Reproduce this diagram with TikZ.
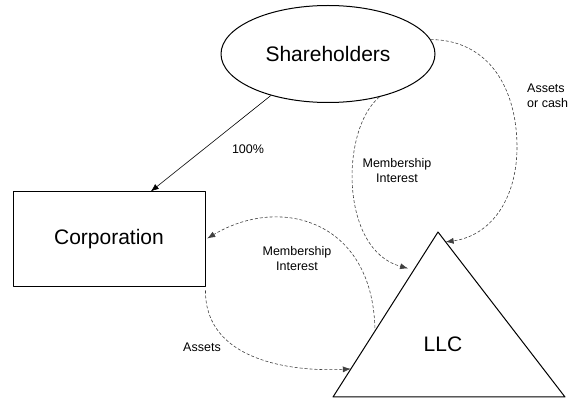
\documentclass[tikz,border=0pt]{standalone}
\usepackage{fontspec}
\setmainfont{Liberation Sans}
\usetikzlibrary{shapes.geometric,arrows.meta,calc}

\begin{document}
\begin{tikzpicture}[x=1pt,y=-1pt,line join=round,
	big/.style={font=\fontsize{21}{25}\selectfont},
	lbl/.style={font=\fontsize{12.5}{15}\selectfont,align=center,inner sep=0pt},
	flow/.style={dash pattern=on 3pt off 2pt,line width=0.6pt,black!75,-{Latex[length=8pt,width=6pt]}}]
	\useasboundingbox (0,0) rectangle (571,398);
	\node[ellipse,draw,line width=1pt,minimum width=214pt,minimum height=97pt,inner sep=0pt,big] (share) at (328,54) {Shareholders};
	\node[rectangle,draw,line width=1pt,minimum width=192pt,minimum height=95pt,inner sep=0pt,big] (corp) at (109,239.5) {Corporation};
	\coordinate (T) at (438,232);
	\coordinate (L) at (333,397);
	\coordinate (R) at (565,397);
	\draw[line width=1pt] (T)--(L)--(R)--cycle;
	\node[big] (llc) at (443,344) {LLC};
	\coordinate (A) at ($(T)!0.23!(L)$);
	\coordinate (B) at ($(T)!0.6!(L)$);
	\coordinate (C) at ($(T)!0.83!(L)$);
	\coordinate (D) at ($(T)!0.06!(R)$);
	\draw[line width=0.6pt,-{Latex[length=8pt,width=6pt]}] (share.-144) -- (corp.49);
	\draw[flow] (share.8) .. controls (490,40) and (517,90) .. (517,147) .. controls (517,200) and (490,236) .. (D);
	\draw[flow,shorten >=6pt] (share.-40) .. controls (340,130) and (340,250) .. (A);
	\draw[flow,shorten <=3pt,shorten >=2pt] (B) .. controls (372,220) and (280,195) .. (corp.east);
	\draw[flow,shorten <=3pt] (corp.south east) .. controls (205,360) and (290,372) .. (C);
	\node[lbl] (pct) at (248,149) {100\%};
	\node[lbl,align=left,anchor=west] (cash) at (527,95.5) {Assets\\or cash};
	\node[lbl] (mem1) at (397,170.5) {Membership\\Interest};
	\node[lbl] (mem2) at (297,258.5) {Membership\\Interest};
	\node[lbl] (ast) at (202,347) {Assets};
\end{tikzpicture}
\end{document}
